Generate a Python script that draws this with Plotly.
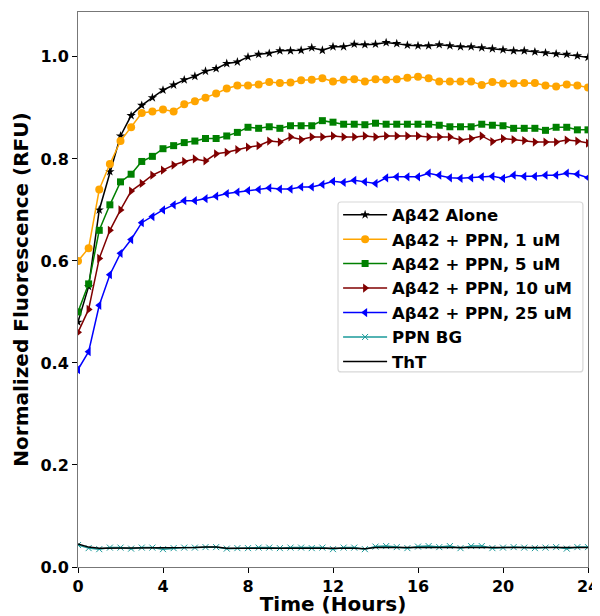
import plotly.graph_objects as go

hours = [i * 0.5 for i in range(49)]

abeta_alone = [0.48, 0.55, 0.70, 0.775, 0.845, 0.885, 0.905, 0.92, 0.935, 0.945, 0.955, 0.962, 0.972, 0.977,
               0.987, 0.99, 1.0, 1.005, 1.007, 1.012, 1.012, 1.013, 1.018, 1.013, 1.02, 1.02, 1.025, 1.024,
               1.025, 1.028, 1.026, 1.023, 1.022, 1.022, 1.024, 1.022, 1.02, 1.02, 1.018, 1.016, 1.014,
               1.012, 1.012, 1.01, 1.008, 1.006, 1.005, 1.002, 0.999]
ppn_1 = [0.60, 0.625, 0.74, 0.79, 0.835, 0.862, 0.89, 0.893, 0.897, 0.893, 0.907, 0.913, 0.92, 0.928,
         0.938, 0.944, 0.944, 0.946, 0.951, 0.949, 0.95, 0.954, 0.955, 0.958, 0.952, 0.955, 0.956, 0.952,
         0.956, 0.955, 0.956, 0.959, 0.961, 0.958, 0.952, 0.952, 0.952, 0.952, 0.945, 0.951, 0.948,
         0.948, 0.949, 0.949, 0.944, 0.942, 0.946, 0.944, 0.94]
ppn_5 = [0.50, 0.555, 0.66, 0.71, 0.755, 0.77, 0.795, 0.805, 0.82, 0.826, 0.832, 0.835, 0.84, 0.84,
         0.845, 0.852, 0.862, 0.86, 0.863, 0.86, 0.865, 0.865, 0.865, 0.875, 0.872, 0.868, 0.868, 0.867,
         0.87, 0.868, 0.868, 0.868, 0.868, 0.868, 0.866, 0.863, 0.863, 0.863, 0.868, 0.866, 0.865,
         0.86, 0.86, 0.86, 0.856, 0.862, 0.862, 0.857, 0.857]
ppn_10 = [0.46, 0.505, 0.605, 0.66, 0.70, 0.737, 0.752, 0.768, 0.778, 0.788, 0.795, 0.80, 0.796, 0.81,
          0.813, 0.818, 0.823, 0.826, 0.835, 0.833, 0.843, 0.838, 0.843, 0.843, 0.845, 0.843, 0.843, 0.845,
          0.843, 0.845, 0.845, 0.845, 0.845, 0.843, 0.843, 0.843, 0.837, 0.84, 0.845, 0.834, 0.84,
          0.838, 0.836, 0.833, 0.833, 0.833, 0.837, 0.835, 0.831]
ppn_25 = [0.387, 0.422, 0.513, 0.573, 0.615, 0.642, 0.675, 0.687, 0.70, 0.71, 0.718, 0.718, 0.722, 0.727,
          0.732, 0.735, 0.738, 0.74, 0.743, 0.741, 0.741, 0.745, 0.745, 0.75, 0.756, 0.754, 0.758, 0.755,
          0.752, 0.763, 0.765, 0.765, 0.765, 0.772, 0.768, 0.763, 0.762, 0.763, 0.765, 0.766, 0.762,
          0.768, 0.766, 0.766, 0.768, 0.768, 0.772, 0.77, 0.763]
ppn_bg = [0.043, 0.037, 0.035, 0.038, 0.038, 0.036, 0.038, 0.038, 0.035, 0.037, 0.038, 0.038, 0.039, 0.039,
          0.036, 0.037, 0.037, 0.038, 0.038, 0.037, 0.038, 0.038, 0.037, 0.038, 0.035, 0.038, 0.038, 0.035,
          0.04, 0.041, 0.039, 0.037, 0.04, 0.041, 0.039, 0.041, 0.037, 0.041, 0.041, 0.037, 0.038,
          0.039, 0.038, 0.037, 0.038, 0.039, 0.036, 0.039, 0.039]
tht = [0.045, 0.039, 0.037, 0.037, 0.037, 0.037, 0.038, 0.038, 0.037, 0.038, 0.038, 0.038, 0.039, 0.039,
       0.037, 0.037, 0.037, 0.037, 0.037, 0.037, 0.038, 0.038, 0.037, 0.038, 0.037, 0.037, 0.037, 0.036,
       0.038, 0.038, 0.038, 0.037, 0.038, 0.038, 0.038, 0.037, 0.037, 0.037, 0.038, 0.038, 0.038,
       0.037, 0.037, 0.037, 0.038, 0.038, 0.037, 0.037, 0.038]

x_ticks = [0, 4, 8, 12, 16, 20, 24]
y_ticks = [0.0, 0.2, 0.4, 0.6, 0.8, 1.0]

series = [
    ("Aβ42 Alone", abeta_alone, "black", "star", 7),
    ("Aβ42 + PPN, 1 uM", ppn_1, "#FFA500", "circle", 8),
    ("Aβ42 + PPN, 5 uM", ppn_5, "#008000", "square", 7),
    ("Aβ42 + PPN, 10 uM", ppn_10, "#800000", "triangle-right", 8),
    ("Aβ42 + PPN, 25 uM", ppn_25, "#0000FF", "triangle-left", 8),
    ("PPN BG", ppn_bg, "#1a9a9a", "x-thin", 6),
]

fig = go.Figure()
for name, vals, color, sym, size in series:
    marker = dict(symbol=sym, size=size, color=color)
    if sym == "x-thin":
        marker["line"] = dict(color=color, width=1)
    fig.add_trace(go.Scatter(x=hours, y=vals, name=name, mode="lines+markers",
                             line=dict(color=color, width=1.5), marker=marker))
fig.add_trace(go.Scatter(x=hours, y=tht, name="ThT", mode="lines",
                         line=dict(color="black", width=1.5)))

axis_common = dict(showgrid=False, zeroline=False, showline=True, linecolor="#777777", linewidth=1,
                   mirror=True, ticks="outside", ticklen=5, tickcolor="black", automargin=False,
                   tickfont=dict(family="DejaVu Sans", size=16, color="black", weight="bold"))

# legend frame (rounded rectangle in paper coordinates)
x0, x1, y0, y1 = 0.5098, 0.990, 0.3514, 0.6577
rx, ry = 0.006, 0.0055
frame = (f"M{x0+rx},{y1} L{x1-rx},{y1} Q{x1},{y1} {x1},{y1-ry} L{x1},{y0+ry} Q{x1},{y0} {x1-rx},{y0} "
         f"L{x0+rx},{y0} Q{x0},{y0} {x0},{y0+ry} L{x0},{y1-ry} Q{x0},{y1} {x0+rx},{y1} Z")

fig.update_layout(
    width=592, height=608,
    margin=dict(l=70, r=12, t=4, b=49),
    plot_bgcolor="white", paper_bgcolor="white",
    font=dict(family="DejaVu Sans", color="black"),
    xaxis=dict(range=[0, 24], tickvals=x_ticks, ticktext=[str(t) for t in x_ticks], ticklabelstandoff=0,
               title=dict(text="Time (Hours)", standoff=9,
                          font=dict(family="DejaVu Sans", size=20, weight="bold")), **axis_common),
    yaxis=dict(range=[0, 1.088], tickvals=y_ticks, ticktext=[f"{t:.1f}" for t in y_ticks], ticklabelstandoff=0,
               title=dict(text="Normalized Fluorescence (RFU)", standoff=6,
                          font=dict(family="DejaVu Sans", size=20, weight="bold")), **axis_common),
    shapes=[dict(type="path", xref="paper", yref="paper", path=frame,
                 line=dict(color="#d8d8d8", width=1.2), fillcolor="rgba(255,255,255,0.9)", layer="above")],
    legend=dict(x=0.51, y=0.6658, xanchor="left", yanchor="top", bgcolor="rgba(0,0,0,0)",
                borderwidth=0, itemwidth=44,
                font=dict(family="DejaVu Sans", size=16.5, color="black", weight="bold")),
    showlegend=True,
)

fig.write_html("out.html")
